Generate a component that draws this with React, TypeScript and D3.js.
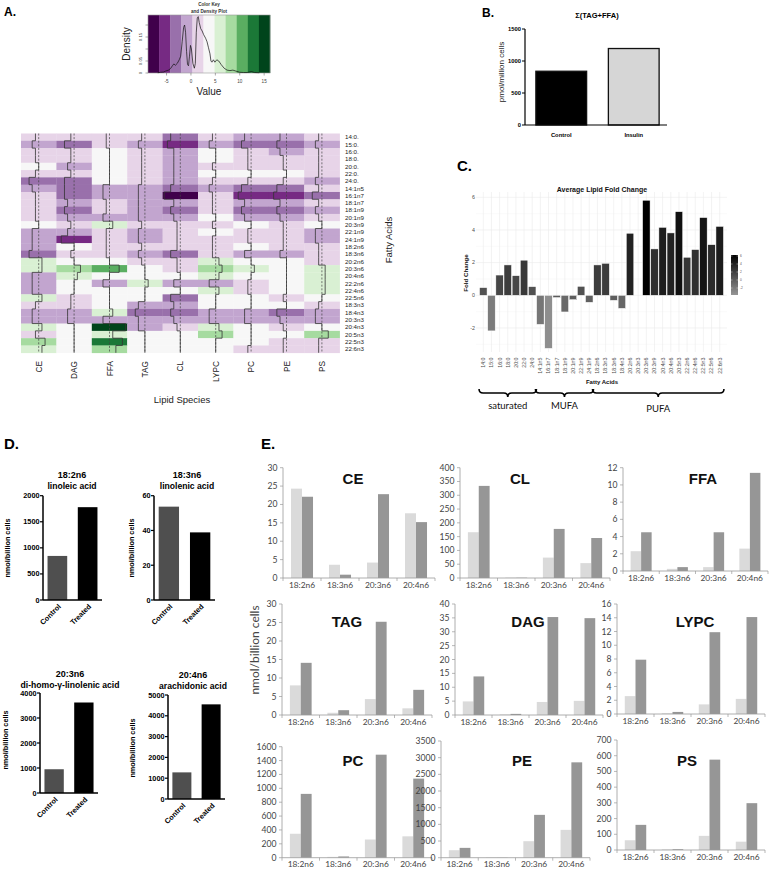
import React from "react";
import * as d3 from "d3";

// ---------------- Panel A data ----------------
const keyBandColors = ["#40004b", "#762a83", "#9970ab", "#c2a5cf", "#e7d4e8", "#f7f7f7", "#d9f0d3", "#a6dba0", "#5aae61", "#1b7837", "#00441b"];
const keyRange: [number, number] = [-8.8, 16.2];
const keyValueTicks = [-5, 0, 5, 10, 15];
const keyDensityTicks = [0, 0.05, 0.1, 0.15, 0.2];
const keyDensityLabels = ["0", "0.05", "", "0.15", ""];
const densityValues = [-6.8, -6.2, -5.6, -5.2, -4.6, -4.2, -3.8, -3.5, -3.2, -2.8, -2.4, -2.1, -1.8, -1.5, -1.3, -1.1, -0.9, -0.7, -0.5, -0.3, -0.1, 0.1, 0.4, 0.7, 0.9, 1.1, 1.3, 1.5, 1.7, 2.0, 2.3, 2.6, 3.0, 3.3, 3.6, 3.9, 4.1, 4.3, 4.6, 4.9, 5.3, 5.7, 6.2, 6.8, 7.4, 8.0, 8.6, 9.2, 10.0, 10.8, 11.5, 12.4, 13.0, 14.0];
const densityHeights = [0.001, 0.003, 0.004, 0.008, 0.012, 0.018, 0.03, 0.038, 0.032, 0.04, 0.055, 0.07, 0.13, 0.19, 0.2, 0.17, 0.09, 0.035, 0.03, 0.07, 0.115, 0.1, 0.04, 0.02, 0.04, 0.17, 0.23, 0.235, 0.21, 0.185, 0.175, 0.16, 0.145, 0.13, 0.105, 0.08, 0.05, 0.045, 0.055, 0.045, 0.055, 0.05, 0.035, 0.02, 0.012, 0.01, 0.012, 0.008, 0.003, 0.002, 0.002, 0.006, 0.002, 0.001];

const heatRows = ["14:0.", "15:0.", "16:0.", "18:0.", "20:0.", "22:0.", "24:0.", "14:1n5", "16:1n7", "18:1n7", "18:1n9", "20:1n9", "20:3n9", "22:1n9", "24:1n9", "18:2n6", "18:3n6", "20:2n6", "20:3n6", "20:4n6", "22:2n6", "22:4n6", "22:5n6", "18:3n3", "18:4n3", "20:3n3", "20:4n3", "20:5n3", "22:5n3", "22:6n3"];
const lipidSpecies = ["CE", "DAG", "FFA", "TAG", "CL", "LYPC", "PC", "PE", "PS"];
const heatValues: number[][] = [
  [1.4, 1.4, 1.4, 1.4, -3.1, 1.4, -0.9, -0.9, 1.4],
  [-0.9, -3.1, 1.4, -0.9, -5.4, -0.9, -3.1, -3.1, -0.9],
  [1.4, 1.4, 3.7, 1.4, -0.9, 3.7, 1.4, -0.9, 1.4],
  [1.4, 1.4, 3.7, 1.4, -0.9, 3.7, 1.4, 1.4, 1.4],
  [3.7, -0.9, 3.7, 1.4, -0.9, 1.4, 1.4, 1.4, 1.4],
  [1.4, 1.4, 3.7, 1.4, -0.9, 3.7, 3.7, 3.7, 1.4],
  [-3.1, -3.1, 3.7, 1.4, -0.9, 1.4, 1.4, 1.4, -0.9],
  [-0.9, -3.1, -0.9, -0.9, -3.1, -0.9, -3.1, -3.1, 1.4],
  [1.4, -3.1, -0.9, -0.9, -7.7, 1.4, -5.4, -5.4, -3.1],
  [1.4, -0.9, 1.4, -0.9, -0.9, 1.4, -0.9, -0.9, 1.4],
  [1.4, -3.1, 1.4, -0.9, -3.1, 1.4, -3.1, -3.1, -0.9],
  [1.4, -0.9, -0.9, -0.9, -0.9, 3.7, -0.9, -0.9, 1.4],
  [3.7, 1.4, 6.0, 1.4, 1.4, 1.4, 3.7, 1.4, 3.7],
  [-0.9, -0.9, 1.4, -0.9, 1.4, 3.7, 1.4, 1.4, -0.9],
  [-0.9, -5.4, 1.4, -0.9, 1.4, 1.4, 1.4, 1.4, -0.9],
  [-0.9, 3.7, 1.4, 1.4, 1.4, 1.4, 3.7, 1.4, 1.4],
  [-3.1, 1.4, 1.4, -0.9, -3.1, 1.4, -0.9, -0.9, 1.4],
  [6.0, 3.7, 3.7, 1.4, 1.4, 6.0, 3.7, 3.7, 1.4],
  [6.0, 8.2, 10.5, 3.7, 1.4, 8.2, 6.0, 3.7, 6.0],
  [-0.9, 6.0, 3.7, 3.7, 3.7, 6.0, 3.7, 3.7, 6.0],
  [-0.9, 3.7, -0.9, 6.0, -0.9, -0.9, 1.4, 3.7, 6.0],
  [-0.9, 3.7, 3.7, 3.7, 3.7, 6.0, 1.4, 3.7, 6.0],
  [6.0, 1.4, 3.7, 3.7, -3.1, 3.7, 3.7, 1.4, 3.7],
  [1.4, 1.4, 3.7, -0.9, -0.9, 3.7, 3.7, 3.7, 1.4],
  [-0.9, -0.9, 6.0, -3.1, -3.1, -0.9, -0.9, -3.1, -0.9],
  [-0.9, -0.9, -0.9, -0.9, -0.9, -0.9, -0.9, -0.9, -0.9],
  [6.0, 3.7, 15.1, -0.9, 1.4, 6.0, 3.7, 1.4, 3.7],
  [1.4, 3.7, 6.0, 3.7, 3.7, 8.2, 3.7, 3.7, 8.2],
  [8.2, 3.7, 12.8, 3.7, 3.7, 3.7, 3.7, 1.4, 1.4],
  [6.0, 3.7, 8.2, 3.7, 3.7, 3.7, 1.4, 1.4, 1.4],
];

// ---------------- Panel B data ----------------
const bCategories = ["Control", "Insulin"];
const bValues = [840, 1195];
const bTicks = [0, 500, 1000, 1500];

// ---------------- Panel C data ----------------
const cFattyAcids = ["14:0", "15:0", "16:0", "18:0", "20:0", "22:0", "24:0", "14:1n5", "16:1n7", "18:1n7", "18:1n9", "20:1n9", "22:1n9", "24:1n9", "18:2n6", "18:3n3", "18:3n6", "18:4n3", "20:2n6", "20:3n3", "20:3n6", "20:3n9", "20:4n3", "20:4n6", "20:5n3", "22:2n6", "22:4n6", "22:5n3", "22:5n6", "22:6n3"];
const cFoldChange: (number | null)[] = [0.47, -2.18, 1.24, 1.86, 1.2, 2.15, 0.53, -1.78, -3.25, -0.14, -1.02, -0.27, 0.55, -0.43, 1.86, 1.96, -0.31, -0.8, 3.8, null, 5.82, 2.84, 4.16, 3.82, 5.12, 2.33, 2.8, 4.76, 3.1, 4.22];
const cTicks = [-2, 0, 2, 4, 6];
const cLegendTicks = [6, 4, 2, 0, -2];
const cGroups = ["saturated", "MUFA", "PUFA"];
const cGroupSpans = [["14:0", "24:0"], ["14:1n5", "24:1n9"], ["18:2n6", "22:6n3"]];

// ---------------- Panel D data ----------------
const dCategories = ["Control", "Treated"];
const dTitles = ["18:2n6", "18:3n6", "20:3n6", "20:4n6"];
const dSubtitles = ["linoleic acid", "linolenic acid", "di-homo-\u03b3-linolenic acid", "arachidonic acid"];
const dValues = [[845, 1780], [53.7, 38.9], [950, 3620], [1280, 4550]];
const dMax = [2000, 60, 4000, 5000];
const dStep = [500, 20, 1000, 1000];

// ---------------- Panel E data ----------------
const eCategories = ["18:2n6", "18:3n6", "20:3n6", "20:4n6"];
const eLipids = ["CE", "CL", "FFA", "TAG", "DAG", "LYPC", "PC", "PE", "PS"];
const eControl = [
  [24.3, 3.6, 4.2, 17.6],
  [166, 1.5, 74, 54],
  [2.3, 0.25, 0.45, 2.6],
  [8.0, 0.6, 4.3, 1.8],
  [4.9, 0.2, 4.7, 5.1],
  [2.6, 0.1, 1.4, 2.2],
  [345, 12, 262, 308],
  [225, 10, 495, 835],
  [62, 4, 90, 53],
];
const eTreated = [
  [22.1, 0.9, 22.8, 15.2],
  [334, 1, 178, 145],
  [4.5, 0.45, 4.5, 11.4],
  [14.1, 1.3, 25.2, 6.8],
  [13.9, 0.4, 35.3, 34.9],
  [7.9, 0.3, 11.9, 14.1],
  [920, 18, 1485, 1140],
  [295, 5, 1285, 2860],
  [160, 5, 575, 298],
];
const eMax = [30, 400, 12, 30, 40, 16, 1600, 3500, 700];
const eStep = [5, 50, 2, 5, 5, 2, 200, 500, 100];

const SANS = "'Liberation Sans', Arial, Helvetica, sans-serif";
const CAL = "Lato, 'Open Sans', sans-serif";

function PanelA() {
  const kx = d3.scaleLinear().domain(keyRange).range([148, 270]);
  const ky = d3.scaleLinear().domain([0, 0.2]).range([73, 25]);
  const bandW = (keyRange[1] - keyRange[0]) / keyBandColors.length;
  const line = d3.line<number>().x((_, i) => kx(densityValues[i])).y((d) => ky(d));
  const hx = d3.scaleBand<string>().domain(lipidSpecies).range([21, 339.6]);
  const hy = d3.scaleBand<string>().domain(heatRows).range([133.5, 352.8]);
  const color = d3.scaleQuantize<string>().domain(keyRange).range(keyBandColors);
  const frac = d3.scaleLinear().domain(keyRange).range([0, 1]);
  const bw = hx.bandwidth();
  const bh = hy.bandwidth();
  return (
    <g fontFamily={SANS}>
      <text x={4} y={16} fontSize={12} fontWeight="bold">A.</text>
      {/* color key */}
      <text x={209} y={6} fontSize={4.6} fontWeight="bold" textAnchor="middle" fill="#333">Color Key</text>
      <text x={209} y={13} fontSize={4.6} fontWeight="bold" textAnchor="middle" fill="#333">and Density Plot</text>
      {keyBandColors.map((c, i) => (
        <rect key={i} x={kx(keyRange[0] + i * bandW)} y={15} width={kx(keyRange[0] + (i + 1) * bandW) - kx(keyRange[0] + i * bandW) + 0.3} height={58} fill={c} />
      ))}
      <rect x={148} y={15} width={122} height={58} fill="none" stroke="#999" strokeWidth={0.6} />
      <path d={line(densityHeights) || ""} fill="none" stroke="#111" strokeWidth={0.7} />
      {keyDensityTicks.map((t, i) => (
        <g key={t}>
          <line x1={145.5} x2={148} y1={ky(t)} y2={ky(t)} stroke="#555" strokeWidth={0.5} />
          {keyDensityLabels[i] && (
            <text transform={`translate(141.5,${ky(t)}) rotate(-90)`} fontSize={4.3} textAnchor="middle" fill="#444">{keyDensityLabels[i]}</text>
          )}
        </g>
      ))}
      {keyValueTicks.map((t) => (
        <g key={t}>
          <line x1={kx(t)} x2={kx(t)} y1={73} y2={75.5} stroke="#555" strokeWidth={0.5} />
          <text x={kx(t)} y={83} fontSize={4.6} textAnchor="middle" fill="#444">{t}</text>
        </g>
      ))}
      <text transform="translate(130,44) rotate(-90)" fontSize={10} textAnchor="middle" fill="#222">Density</text>
      <text x={209} y={94.5} fontSize={10} textAnchor="middle" fill="#222">Value</text>
      {/* heatmap */}
      {heatRows.map((r, i) =>
        lipidSpecies.map((s, j) => (
          <rect key={r + s} x={hx(s)!} y={hy(r)!} width={bw + 0.3} height={bh + 0.3} fill={color(heatValues[i][j])} />
        ))
      )}
      {lipidSpecies.map((s, j) => {
        const left = hx(s)!;
        const tx = (v: number) => left + bw * frac(v);
        let d = "";
        heatRows.forEach((r, i) => {
          const x = tx(heatValues[i][j]);
          const top = hy(r)!;
          d += i === 0 ? `M${x},${top}` : `H${x}`;
          d += `V${top + bh}`;
        });
        return (
          <g key={s}>
            <line x1={left + bw / 2} x2={left + bw / 2} y1={133.5} y2={352.8} stroke="#444" strokeWidth={0.7} strokeDasharray="2,1.6" />
            <path d={d} fill="none" stroke="#333" strokeWidth={0.8} />
            <text transform={`translate(${left + bw / 2 + 3},361) rotate(-90)`} fontSize={8.3} textAnchor="end" fill="#222">{s}</text>
          </g>
        );
      })}
      {heatRows.map((r) => (
        <text key={r} x={345} y={hy(r)! + bh / 2 + 2.2} fontSize={6.2} fill="#222">{r}</text>
      ))}
      <text x={182} y={403} fontSize={9.5} textAnchor="middle" fill="#222">Lipid Species</text>
      <text transform="translate(392,240) rotate(-90)" fontSize={9.5} textAnchor="middle" fill="#222">Fatty Acids</text>
    </g>
  );
}

function PanelB() {
  const y = d3.scaleLinear().domain([0, 1500]).range([125, 29]);
  const x = d3.scaleBand<string>().domain(bCategories).range([525, 670]).paddingInner(0.3).paddingOuter(0.15);
  const fills = ["#000", "#d6d6d6"];
  return (
    <g fontFamily={SANS}>
      <text x={482} y={17} fontSize={12} fontWeight="bold">B.</text>
      <text x={597} y={18} fontSize={7.5} fontWeight="bold" textAnchor="middle">{"\u03a3(TAG+FFA)"}</text>
      {bCategories.map((c, i) => (
        <g key={c}>
          <rect x={x(c)!} y={y(bValues[i])} width={x.bandwidth()} height={125 - y(bValues[i])} fill={fills[i]} stroke="#111" strokeWidth={1.3} />
          <text x={x(c)! + x.bandwidth() / 2} y={137} fontSize={5.8} fontWeight="bold" textAnchor="middle">{c}</text>
        </g>
      ))}
      <line x1={525} x2={525} y1={29} y2={125} stroke="#000" strokeWidth={1.2} />
      <line x1={525} x2={667} y1={125} y2={125} stroke="#000" strokeWidth={1.2} />
      {bTicks.map((t) => (
        <g key={t}>
          <line x1={522} x2={525} y1={y(t)} y2={y(t)} stroke="#000" strokeWidth={1} />
          <text x={521} y={y(t)} dy="0.35em" fontSize={5.8} fontWeight="bold" textAnchor="end">{t}</text>
        </g>
      ))}
      <text transform="translate(504,72) rotate(-90)" fontSize={8} textAnchor="middle" fill="#222">pmol/million cells</text>
    </g>
  );
}

function brace(x1: number, x2: number, y: number, h: number) {
  const m = (x1 + x2) / 2;
  const r = h / 2;
  return `M${x1},${y} Q${x1},${y + r} ${x1 + r},${y + r} L${m - r},${y + r} Q${m},${y + r} ${m},${y + h} Q${m},${y + r} ${m + r},${y + r} L${x2 - r},${y + r} Q${x2},${y + r} ${x2},${y}`;
}

function PanelC() {
  const x = d3.scaleBand<string>().domain(cFattyAcids).range([478.9, 724.1]).padding(0.08);
  const y = d3.scaleLinear().domain([0, 6]).range([295.3, 197.3]);
  const color = d3.scaleLinear<string>().domain([-3.25, 5.82]).range(["#8e8e8e", "#000000"]).interpolate(d3.interpolateLab);
  const ly = d3.scaleLinear().domain([0, 6]).range([280, 256]);
  const minor = [-3, -1, 1, 3, 5];
  const groupY = [409, 409, 411.5];
  return (
    <g fontFamily={SANS}>
      <defs>
        <linearGradient id="cbar" x1="0" y1="0" x2="0" y2="1">
          <stop offset="0%" stopColor="#000" />
          <stop offset="100%" stopColor="#959595" />
        </linearGradient>
      </defs>
      <text x={457} y={171} fontSize={15} fontWeight="bold">C.</text>
      <text x={602} y={191.5} fontSize={7} fontWeight="bold" textAnchor="middle" fill="#111">Average Lipid Fold Change</text>
      {minor.map((t) => (
        <line key={"m" + t} x1={476} x2={727} y1={y(t)} y2={y(t)} stroke="#f3f3f3" strokeWidth={0.4} />
      ))}
      {cTicks.map((t) => (
        <line key={"g" + t} x1={476} x2={727} y1={y(t)} y2={y(t)} stroke="#ebebeb" strokeWidth={0.6} />
      ))}
      {cFattyAcids.map((f) => (
        <line key={"v" + f} x1={x(f)! + x.bandwidth() / 2} x2={x(f)! + x.bandwidth() / 2} y1={192} y2={352} stroke="#ebebeb" strokeWidth={0.6} />
      ))}
      {cFattyAcids.map((f, i) => {
        const v = cFoldChange[i];
        if (v === null) return null;
        return <rect key={f} x={x(f)!} y={Math.min(y(v), y(0))} width={x.bandwidth()} height={Math.abs(y(v) - y(0))} fill={color(v)} stroke="#fff" strokeWidth={0.5} />;
      })}
      {cTicks.map((t) => (
        <text key={t} x={475} y={y(t)} dy="0.35em" fontSize={5.3} textAnchor="end" fill="#4d4d4d">{t}</text>
      ))}
      {cFattyAcids.map((f) => (
        <text key={"l" + f} transform={`translate(${x(f)! + x.bandwidth() / 2 + 1.9},357.5) rotate(-90)`} fontSize={5.3} textAnchor="end" fill="#4d4d4d">{f}</text>
      ))}
      <text transform="translate(468,273) rotate(-90)" fontSize={6.2} fontWeight="bold" textAnchor="middle" fill="#111">Fold Change</text>
      <text x={602} y={383.5} fontSize={6} fontWeight="bold" textAnchor="middle" fill="#111">Fatty Acids</text>
      <rect x={731} y={255} width={7} height={40} fill="url(#cbar)" />
      {cLegendTicks.map((t) => (
        <g key={"lt" + t}>
          <line x1={731} x2={732.5} y1={ly(t)} y2={ly(t)} stroke="#fff" strokeWidth={0.4} />
          <line x1={736.5} x2={738} y1={ly(t)} y2={ly(t)} stroke="#fff" strokeWidth={0.4} />
          <text x={740} y={ly(t)} dy="0.35em" fontSize={3.2} fill="#555">{t}</text>
        </g>
      ))}
      {cGroups.map((g, i) => {
        const a = x(cGroupSpans[i][0])! - (i === 0 ? 0.5 : 1.2);
        const b = x(cGroupSpans[i][1])! + x.bandwidth() + 0.5;
        return (
          <g key={g}>
            <path d={brace(a, b, 389, 8)} fill="none" stroke="#000" strokeWidth={1.6} />
            <text x={(a + b) / 2} y={groupY[i]} fontSize={9.5} textAnchor="middle" fontFamily={CAL} fill="#111">{g}</text>
          </g>
        );
      })}
    </g>
  );
}

function DChart({ idx, axisX, axisR, y0, yTop, tx, ty, lx, ly }: { idx: number; axisX: number; axisR: number; y0: number; yTop: number; tx: number; ty: number; lx: number; ly: number }) {
  const x = d3.scaleBand<string>().domain(dCategories).range([axisX, axisR]).paddingInner(0.35).paddingOuter(0.15);
  const y = d3.scaleLinear().domain([0, dMax[idx]]).range([y0, yTop]);
  const ticks = d3.range(0, dMax[idx] + dStep[idx] / 2, dStep[idx]);
  const fills = ["#4f4f4f", "#000"];
  return (
    <g fontFamily={SANS} fontWeight="bold">
      <text x={tx} y={ty} fontSize={9} textAnchor="middle">{dTitles[idx]}</text>
      <text x={tx} y={ty + 11.5} fontSize={8.6} textAnchor="middle">{dSubtitles[idx]}</text>
      {dCategories.map((c, i) => (
        <g key={c}>
          <rect x={x(c)!} y={y(dValues[idx][i])} width={x.bandwidth()} height={y0 - y(dValues[idx][i])} fill={fills[i]} />
          <text transform={`translate(${x(c)! + x.bandwidth() / 2 + 4},${y0 + 7}) rotate(-45)`} fontSize={7.3} textAnchor="end">{c}</text>
        </g>
      ))}
      <line x1={axisX} x2={axisX} y1={yTop} y2={y0} stroke="#000" strokeWidth={1.5} />
      <line x1={axisX} x2={axisR} y1={y0} y2={y0} stroke="#000" strokeWidth={1.5} />
      {ticks.map((t) => (
        <g key={t}>
          <line x1={axisX - 3} x2={axisX} y1={y(t)} y2={y(t)} stroke="#000" strokeWidth={1.2} />
          <text x={axisX - 3.5} y={y(t)} dy="0.35em" fontSize={7.3} textAnchor="end">{t}</text>
        </g>
      ))}
      <text transform={`translate(${lx},${ly}) rotate(-90)`} fontSize={7.3} textAnchor="middle">nmol/billion cells</text>
    </g>
  );
}

function PanelD() {
  return (
    <g>
      <text x={4} y={449} fontSize={15} fontWeight="bold" fontFamily={SANS}>D.</text>
      <DChart idx={0} axisX={43} axisR={102} y0={600} yTop={495.7} tx={72} ty={477.5} lx={10} ly={548} />
      <DChart idx={1} axisX={154} axisR={215} y0={600} yTop={495.7} tx={187} ty={477.5} lx={134} ly={548} />
      <DChart idx={2} axisX={40} axisR={98} y0={793} yTop={693} tx={70} ty={676.5} lx={8} ly={740} />
      <DChart idx={3} axisX={168} axisR={225} y0={799} yTop={695} tx={193} ty={677.5} lx={135} ly={748} />
    </g>
  );
}

const eLayout = [
  { x0: 283, x1: 435, y0: 578, yTop: 467.7, tx: 353, ty: 483.5 },
  { x0: 460, x1: 610, y0: 578, yTop: 467.7, tx: 520, ty: 483.5 },
  { x0: 623, x1: 768, y0: 571, yTop: 467.7, tx: 703, ty: 483.5 },
  { x0: 282, x1: 432, y0: 715, yTop: 604, tx: 347, ty: 626.5 },
  { x0: 455, x1: 603, y0: 715, yTop: 604, tx: 528, ty: 626.5 },
  { x0: 617, x1: 765, y0: 714, yTop: 604, tx: 695, ty: 626.5 },
  { x0: 282, x1: 432, y0: 857.7, yTop: 746.7, tx: 353, ty: 765.5 },
  { x0: 441, x1: 590, y0: 857.7, yTop: 741, tx: 522, ty: 765.5 },
  { x0: 617, x1: 765, y0: 850, yTop: 740, tx: 687, ty: 765.5 },
];

function EChart({ idx }: { idx: number }) {
  const L = eLayout[idx];
  const x = d3.scaleBand<string>().domain(eCategories).range([L.x0, L.x1]);
  const y = d3.scaleLinear().domain([0, eMax[idx]]).range([L.y0, L.yTop]);
  const ticks = d3.range(0, eMax[idx] + eStep[idx] / 2, eStep[idx]);
  const bw = x.bandwidth() * 0.29;
  const axis = "#9a9a9a";
  return (
    <g fontFamily={CAL}>
      {eCategories.map((c, i) => {
        const cx = x(c)! + x.bandwidth() / 2;
        const vc = eControl[idx][i];
        const vt = eTreated[idx][i];
        return (
          <g key={c}>
            <rect x={cx - bw} y={y(vc)} width={bw} height={L.y0 - y(vc)} fill="#dadada" />
            <rect x={cx} y={y(vt)} width={bw} height={L.y0 - y(vt)} fill="#969696" />
            <text x={cx} y={L.y0 + 9.5} fontSize={8.4} textAnchor="middle" fill="#444">{c}</text>
          </g>
        );
      })}
      {[...eCategories.map((c) => x(c)!), L.x1].map((bx, i) => (
        <line key={"t" + i} x1={bx} x2={bx} y1={L.y0} y2={L.y0 + 3} stroke={axis} strokeWidth={0.7} />
      ))}
      <line x1={L.x0} x2={L.x1} y1={L.y0} y2={L.y0} stroke={axis} strokeWidth={0.8} />
      <line x1={L.x0} x2={L.x0} y1={L.yTop} y2={L.y0} stroke={axis} strokeWidth={0.8} />
      {ticks.map((t) => (
        <g key={t}>
          <line x1={L.x0 - 3} x2={L.x0} y1={y(t)} y2={y(t)} stroke={axis} strokeWidth={0.7} />
          <text x={L.x0 - 5.5} y={y(t)} dy="0.35em" fontSize={8.6} textAnchor="end" fill="#444">{t}</text>
        </g>
      ))}
      <text x={L.tx} y={L.ty} fontSize={15} fontWeight="bold" textAnchor="middle" fontFamily={SANS} fill="#111">{eLipids[idx]}</text>
    </g>
  );
}

function PanelE() {
  return (
    <g>
      <text x={261} y={449} fontSize={15} fontWeight="bold" fontFamily={SANS}>E.</text>
      {eLipids.map((l, i) => (
        <EChart key={l} idx={i} />
      ))}
      <text transform="translate(259,650) rotate(-90)" fontSize={12} textAnchor="middle" fontFamily={CAL} fill="#444">nmol/billion cells</text>
    </g>
  );
}

export default function App() {
  return (
    <svg width={770} height={872} style={{ position: "absolute", left: 0, top: 0, background: "#fff" }}>
      <rect x={0} y={0} width={770} height={872} fill="#fff" />
      <PanelA />
      <PanelB />
      <PanelC />
      <PanelD />
      <PanelE />
    </svg>
  );
}
